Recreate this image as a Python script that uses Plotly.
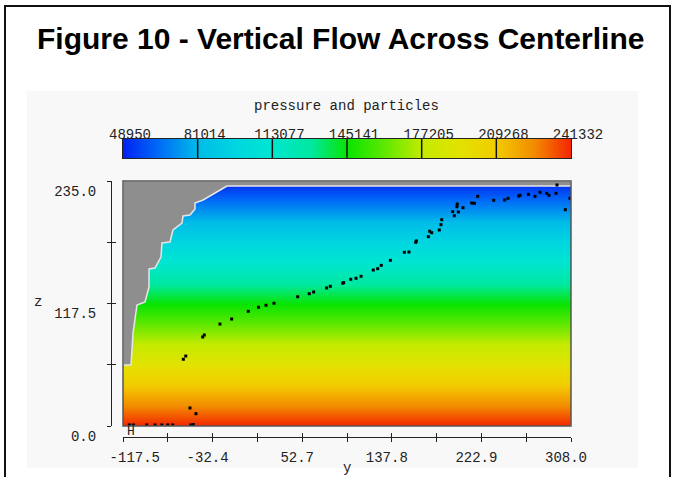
import plotly.graph_objects as go

W, H = 674, 477


def px(x):
    return x / W


def py(y):
    return 1 - y / H


# ---------------- data ----------------
# pressure field (hydrostatic, read from the colour bar levels)
depth_levels = [0.0, 39.17, 78.33, 117.5, 156.67, 195.83, 235.0]
pressure_levels = [241332, 209268, 177205, 145141, 113077, 81014, 48950]
x_range = [-117.5, 308.0]
z_range = [0.0, 235.0]

# colour bar tick values
cb_ticks = [48950, 81014, 113077, 145141, 177205, 209268, 241332]
cb_labels = [str(v) for v in cb_ticks]

# axis ticks
x_ticks = [-117.5, -74.95, -32.4, 10.15, 52.7, 95.25, 137.8, 180.35, 222.9, 265.45, 308.0]
x_labels = ["\u00a0\u00a0\u00a0\u00a0-117.5", "", "-32.4", "", "52.7", "", "137.8", "", "222.9", "", "308.0"]
y_ticks = [0.0, 58.75, 117.5, 176.25, 235.0]
y_labels = ["0.0", "", "117.5", "", "235.0"]

# solid wall (grey, no-fluid) region boundary
wall_x = [-18.7, -30.1, -41.5, -49.1, -49.1, -53.9, -60.5, -61.5, -70.0, -72.9, -80.5,
          -81.4, -87.1, -92.8, -92.8, -96.6, -104.2, -108.0, -109.9, -117.5,
          -117.5, 308.0, 308.0, -18.7]
wall_z = [230.2, 223.5, 216.8, 213.9, 208.1, 202.4, 201.4, 194.7, 188.0, 176.5, 175.5,
          162.1, 151.6, 150.6, 133.3, 118.9, 116.1, 89.2, 58.5, 58.5,
          235.0, 235.0, 230.2, 230.2]

# particles
particle_x = [-111.5, -107.7, -95.0, -87.1, -80.7, -75.0, -70.3, -53.2, -50.7, -53.9, -48.2,
              -60.2, -57.9, -41.8, -40.3, -25.4, -14.3, 1.5, 11.2, 18.3, 25.9,
              48.4, 59.4, 63.6, 75.9, 79.4, 91.2, 92.1, 98.8, 103.8, 108.6,
              120.2, 124.4, 127.8, 136.4, 149.7, 154.1, 160.5, 161.1, 172.5, 173.8,
              175.7, 182.9, 184.5, 185.2, 195.6, 197.2, 201.0, 199.7, 200.0, 205.4,
              213.7, 216.2, 219.4, 234.6, 245.0, 248.2, 258.3, 259.6, 267.5, 273.8,
              278.6, 284.9, 287.1, 293.8, 294.7, 302.6, 307.0]
particle_z = [1.0, 1.0, 1.0, 1.0, 1.0, 1.0, 1.0, 1.0, 1.4, 17.3, 11.8,
              64.0, 67.1, 85.4, 87.3, 97.8, 102.6, 110.0, 113.9, 115.8, 117.7,
              124.0, 126.9, 128.5, 132.4, 134.0, 136.9, 137.5, 140.7, 141.7, 143.6,
              149.6, 150.9, 154.1, 158.9, 166.6, 166.9, 176.2, 177.5, 181.6, 186.8,
              185.4, 188.0, 193.1, 197.9, 205.6, 201.7, 205.3, 210.3, 212.9, 209.4,
              213.9, 213.6, 220.3, 216.5, 216.8, 218.4, 220.6, 221.3, 222.2, 220.3,
              224.2, 223.2, 221.3, 223.2, 231.2, 207.5, 218.4]

colorscale = [
    [0.0, "#0022f4"], [0.083, "#0070f6"], [0.167, "#00bce8"], [0.25, "#00d6e0"],
    [0.333, "#00e6d0"], [0.42, "#00e8a0"], [0.5, "#08e400"], [0.583, "#60e800"],
    [0.667, "#c4ea00"], [0.75, "#e2e200"], [0.833, "#f2cc00"], [0.917, "#f28c00"],
    [1.0, "#f42400"],
]
zmin, zmax = min(cb_ticks), max(cb_ticks)

MONO = "Liberation Mono"
TXT = "#222222"

fig = go.Figure()

# pressure field
fig.add_trace(go.Heatmap(
    x=x_range, y=depth_levels, z=[[p, p] for p in pressure_levels],
    colorscale=colorscale, zmin=zmin, zmax=zmax, zsmooth="best",
    showscale=False, hoverinfo="skip", xaxis="x", yaxis="y"))

# wall
fig.add_trace(go.Scatter(
    x=wall_x, y=wall_z, mode="lines", fill="toself", fillcolor="#8e8e8e",
    line=dict(color="#e6e6e6", width=1.5), hoverinfo="skip", showlegend=False,
    xaxis="x", yaxis="y"))

# particles
fig.add_trace(go.Scatter(
    x=particle_x, y=particle_z, mode="markers",
    marker=dict(color="black", size=3, symbol="square"),
    showlegend=False, xaxis="x", yaxis="y"))

# colour bar as its own heatmap
fig.add_trace(go.Heatmap(
    x=cb_ticks, y=[0, 1], z=[cb_ticks, cb_ticks],
    colorscale=colorscale, zmin=zmin, zmax=zmax, zsmooth="best",
    showscale=False, hoverinfo="skip", xaxis="x2", yaxis="y2"))

# dummy trace for cross-tick overlay axes
fig.add_trace(go.Scatter(x=[x_range[0]], y=[z_range[0]], mode="markers",
                         marker=dict(opacity=0), showlegend=False,
                         hoverinfo="skip", xaxis="x3", yaxis="y3"))

xdom = [px(123), px(571)]
ydom = [py(426), py(181)]

axis_common = dict(showgrid=False, zeroline=False, automargin=False)

fig.update_layout(
    width=W, height=H, autosize=False,
    margin=dict(l=0, r=0, t=0, b=0, pad=0),
    paper_bgcolor="white", plot_bgcolor="rgba(0,0,0,0)",
    showlegend=False,
    xaxis=dict(domain=xdom, range=x_range, anchor="free", position=py(437),
               tickmode="array", tickvals=x_ticks, ticktext=x_labels, tickangle=0,
               ticks="outside", ticklen=4, tickcolor=TXT, tickwidth=1,
               showline=True, linecolor=TXT, linewidth=1,
               tickfont=dict(family=MONO, size=14, color=TXT),
               ticklabelshift=-5, ticklabelstandoff=3, **axis_common),
    yaxis=dict(domain=ydom, range=z_range, anchor="free", position=px(111),
               tickmode="array", tickvals=y_ticks, ticktext=y_labels,
               ticks="outside", ticklen=4, tickcolor=TXT, tickwidth=1,
               showline=True, linecolor=TXT, linewidth=1,
               tickfont=dict(family=MONO, size=14, color=TXT),
               ticklabelshift=10, ticklabelstandoff=8, **axis_common),
    xaxis3=dict(overlaying="x", range=x_range, anchor="free", position=py(437),
                tickmode="array", tickvals=x_ticks, ticks="inside", ticklen=4,
                tickcolor=TXT, showticklabels=False, showline=False, **axis_common),
    yaxis3=dict(overlaying="y", range=z_range, anchor="free", position=px(111),
                tickmode="array", tickvals=y_ticks, ticks="inside", ticklen=4,
                tickcolor=TXT, showticklabels=False, showline=False, **axis_common),
    xaxis2=dict(domain=xdom, range=[zmin, zmax], anchor="y2", side="top",
                tickmode="array", tickvals=cb_ticks, ticktext=cb_labels, tickangle=0,
                ticks="", showline=True, mirror=True, linecolor=TXT, linewidth=1,
                tickfont=dict(family=MONO, size=14, color=TXT),
                ticklabelshift=7, ticklabelstandoff=-7, **axis_common),
    yaxis2=dict(domain=[py(158), py(139)], range=[0, 1], anchor="x2",
                showticklabels=False, ticks="", showline=True, mirror=True,
                linecolor=TXT, linewidth=1, **axis_common),
)

shapes = [
    # light panel
    dict(type="rect", xref="paper", yref="paper", x0=px(27), x1=px(638),
         y0=py(468), y1=py(91), fillcolor="#f8f8f8", line=dict(width=0), layer="below"),
    # outer frame
    dict(type="rect", xref="paper", yref="paper", x0=px(5), x1=px(670),
         y0=py(500), y1=py(6), line=dict(color="#111111", width=2), layer="below"),
    # plot border
    dict(type="rect", xref="x domain", yref="y domain", x0=0, x1=1, y0=0, y1=1,
         line=dict(color="#555555", width=1.5)),
]
for t in cb_ticks[1:-1]:
    shapes.append(dict(type="line", xref="x2", yref="y2 domain", x0=t, x1=t, y0=0, y1=1,
                       line=dict(color="#111111", width=1.5)))
fig.update_layout(shapes=shapes)

annotations = [
    dict(text="<b>Figure 10 - Vertical Flow Across Centerline</b>", x=px(340), y=py(39),
         font=dict(family="Liberation Sans", size=30, color="black")),
    dict(text="pressure and particles", x=px(346), y=py(106),
         font=dict(family=MONO, size=14, color=TXT)),
    dict(text="z", x=px(38), y=py(302), font=dict(family=MONO, size=14, color=TXT)),
    dict(text="y", x=px(347), y=py(468), font=dict(family=MONO, size=14, color=TXT)),
    dict(text="H", x=px(131), y=py(431), font=dict(family=MONO, size=13, color=TXT)),
]
for a in annotations:
    a.update(xref="paper", yref="paper", showarrow=False, xanchor="center", yanchor="middle")
fig.update_layout(annotations=annotations)

fig.write_html("out.html")
